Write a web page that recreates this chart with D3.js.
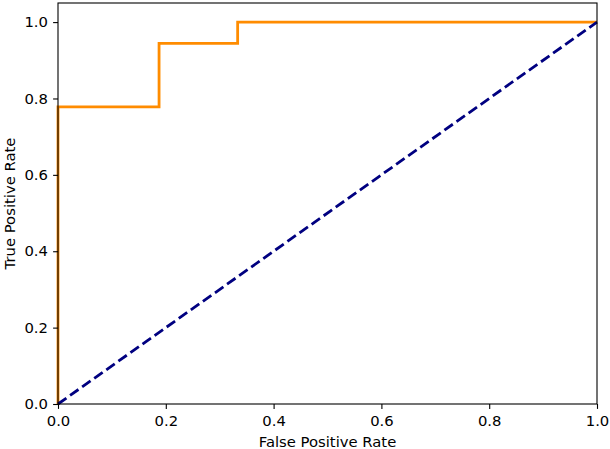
<!DOCTYPE html>
<html>
<head>
<meta charset="utf-8">
<script src="https://cdn.jsdelivr.net/npm/d3@7"></script>
<style>
  body { margin: 0; background: #fff; }
  svg { display: block; font-family: "DejaVu Sans", sans-serif; }
</style>
</head>
<body>
<div id="chart"></div>
<script>
// ROC curve points
const fpr = [0, 0, 0, 0.1875, 0.1875, 0.3333, 0.3333, 1.0];
const tpr = [0, 0.0556, 0.7778, 0.7778, 0.9444, 0.9444, 1.0, 1.0];
const chance = [0, 1];
const xTicks = [0, 0.2, 0.4, 0.6, 0.8, 1.0];
const yTicks = [0, 0.2, 0.4, 0.6, 0.8, 1.0];

const W = 610, H = 449;
const margin = { top: 3, right: 13, bottom: 45, left: 58 };
const w = W - margin.left - margin.right;
const h = H - margin.top - margin.bottom;
const fs = 14.8;

const svg = d3.select("#chart").append("svg")
  .attr("width", W).attr("height", H);
const g = svg.append("g").attr("transform", `translate(${margin.left},${margin.top})`);

const x = d3.scaleLinear().domain([0, 1]).range([0, w]);
const y = d3.scaleLinear().domain([0, 1.05]).range([h, 0]);

g.append("defs").append("clipPath").attr("id", "clip")
  .append("rect").attr("x", -2).attr("y", -2).attr("width", w + 4).attr("height", h + 4);

// curves
const line = d3.line().x(d => x(d[0])).y(d => y(d[1]));

g.append("path")
  .datum(fpr.map((f, i) => [f, tpr[i]]))
  .attr("d", line)
  .attr("fill", "none")
  .attr("stroke", "#ff8c00")
  .attr("stroke-width", 2.8)
  .attr("stroke-linejoin", "miter")
  .attr("clip-path", "url(#clip)");

g.append("path")
  .datum(chance.map(v => [v, v]))
  .attr("d", line)
  .attr("fill", "none")
  .attr("stroke", "#000080")
  .attr("stroke-width", 2.8)
  .attr("stroke-dasharray", "10.3 4.5")
  .attr("clip-path", "url(#clip)");

// axes
const xAxis = g.append("g").attr("transform", `translate(0,${h})`)
  .call(d3.axisBottom(x).tickValues(xTicks).tickFormat(d3.format(".1f")).tickSizeInner(4.9).tickSizeOuter(0));
const yAxis = g.append("g")
  .call(d3.axisLeft(y).tickValues(yTicks).tickFormat(d3.format(".1f")).tickSizeInner(4.9).tickSizeOuter(0));

[xAxis, yAxis].forEach(a => {
  a.select(".domain").remove();
  a.selectAll(".tick line").attr("stroke", "#000").attr("stroke-width", 1.1);
  a.selectAll(".tick text").attr("fill", "#000").attr("font-size", fs)
    .attr("font-family", "DejaVu Sans");
});
xAxis.selectAll(".tick text").attr("dy", "0.71em").attr("y", 11);
yAxis.selectAll(".tick text").attr("x", -10);

// spines
g.append("rect")
  .attr("x", 0).attr("y", 0).attr("width", w).attr("height", h)
  .attr("fill", "none").attr("stroke", "#000").attr("stroke-width", 1.1);

// axis labels
svg.append("text")
  .attr("x", margin.left + w / 2).attr("y", 446.5)
  .attr("text-anchor", "middle").attr("font-size", fs)
  .text("False Positive Rate");

svg.append("text")
  .attr("transform", `translate(15,${margin.top + h / 2}) rotate(-90)`)
  .attr("text-anchor", "middle").attr("font-size", fs)
  .text("True Positive Rate");
</script>
</body>
</html>
